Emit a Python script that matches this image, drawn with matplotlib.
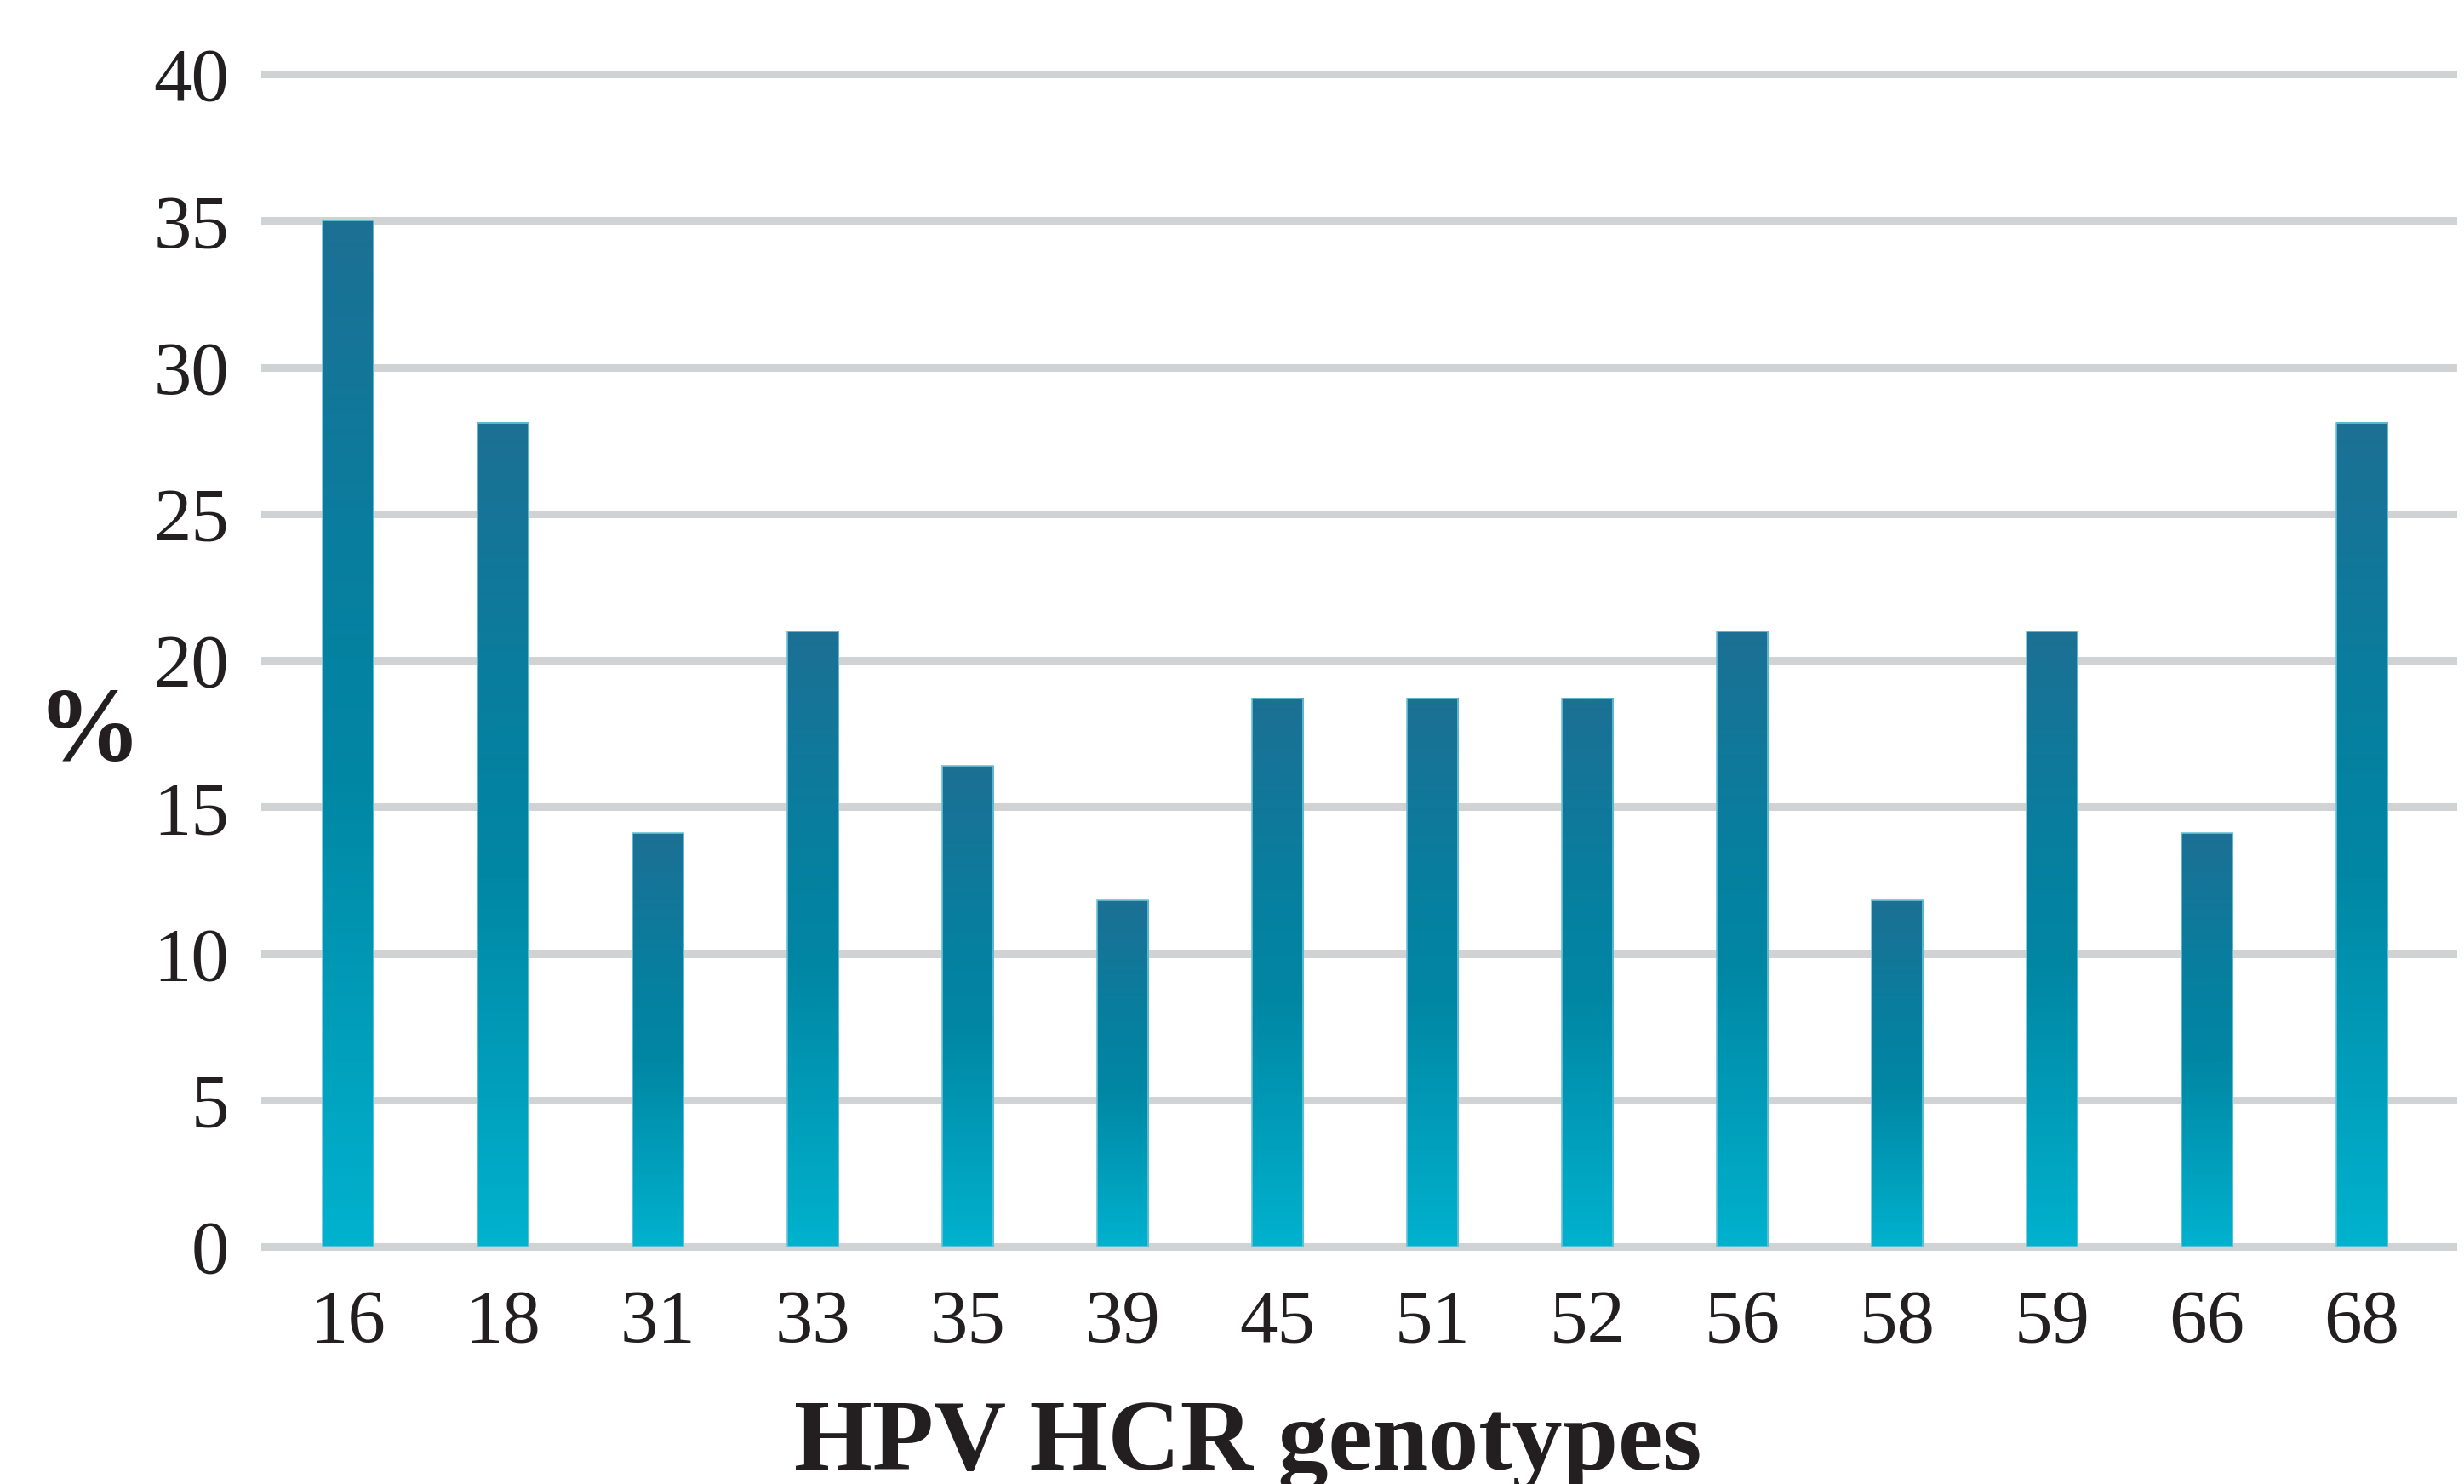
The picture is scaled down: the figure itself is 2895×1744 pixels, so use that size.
import numpy as np
import matplotlib
matplotlib.use("Agg")
import matplotlib.pyplot as plt
from matplotlib.colors import LinearSegmentedColormap

categories = ["16", "18", "31", "33", "35", "39", "45", "51", "52", "56", "58", "59", "66", "68"]
values = [35.0, 28.1, 14.1, 21.0, 16.4, 11.8, 18.7, 18.7, 18.7, 21.0, 11.8, 21.0, 14.1, 28.1]
yticks = [0, 5, 10, 15, 20, 25, 30, 35, 40]

DPI = 100
fig = plt.figure(figsize=(28.95, 17.44), dpi=DPI)
ax = fig.add_axes([311 / 2895, 1 - 1465 / 1744, (2882 - 311) / 2895, (1465 - 87) / 1744])

text_color = "#231f20"
serif = ["Liberation Serif", "DejaVu Serif"]

# gridlines
for t in yticks:
    ax.axhline(t, color="#d1d2d4", lw=6.5, zorder=0, clip_on=False)

x = np.arange(len(categories))
bars = ax.bar(x, values, width=0.33, color="none", edgecolor="#6cc3d9", linewidth=1.2, zorder=3)

cmap = LinearSegmentedColormap.from_list(
    "grad", [(0.0, "#00b2ce"), (0.45, "#0087a4"), (0.7, "#0a7d9e"), (1.0, "#1c7094")]
)
grad = np.linspace(0, 1, 256).reshape(-1, 1)
for b in bars:
    x0, y0 = b.get_x(), b.get_y()
    w, h = b.get_width(), b.get_height()
    im = ax.imshow(grad, extent=[x0, x0 + w, y0, y0 + h], origin="lower",
                   aspect="auto", cmap=cmap, zorder=2, interpolation="bilinear")

ax.set_xlim(-0.538, 13.59)
ax.set_ylim(0, 40)
ax.set_xticks(x)
ax.set_xticklabels(categories)
ax.set_yticks(yticks)
ax.set_yticklabels([str(t) for t in yticks])
ax.tick_params(axis="both", length=0, labelsize=64, labelcolor=text_color)
ax.tick_params(axis="x", pad=36)
ax.tick_params(axis="y", pad=30)
for lab in ax.get_xticklabels() + ax.get_yticklabels():
    lab.set_family(serif)
for s in ax.spines.values():
    s.set_visible(False)

fig.text(1466 / 2895, 1 - 1727 / 1744, "HPV HCR genotypes", ha="center", va="baseline",
         fontsize=85, fontweight="bold", family=serif, color=text_color)
fig.text(105 / 2895, 1 - 863 / 1744, "%", ha="center", va="center",
         fontsize=88, fontweight="bold", family=serif, color=text_color)

fig.savefig("out.png", dpi=DPI, facecolor="white")
